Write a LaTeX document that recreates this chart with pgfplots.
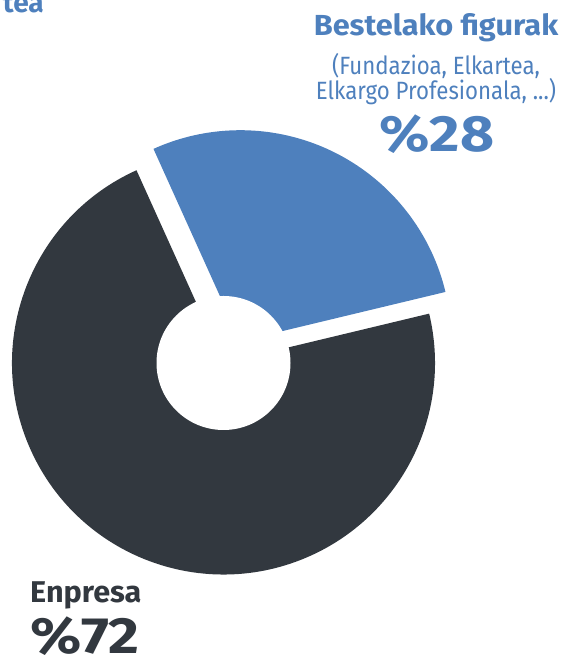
\documentclass[border=0pt]{standalone}
\usepackage{pgfplots}
\pgfplotsset{compat=1.18}
\usepackage{pgfplotstable}
\usepackage{fontspec}
\setmainfont{Fira Sans}
\definecolor{darkslice}{RGB}{50,56,63}
\definecolor{blueslice}{RGB}{78,128,189}
\pgfplotstableread{
label value
Enpresa 72
Bestelako 28
}\piedata
\begin{document}
\begin{tikzpicture}
\pgfplotstablegetelem{0}{value}\of\piedata \let\valA\pgfplotsretval
\pgfplotstablegetelem{1}{value}\of\piedata \let\valB\pgfplotsretval
\pgfmathsetmacro{\startB}{13.5}
\pgfmathsetmacro{\endB}{\startB+\valB*3.6}
\pgfmathsetmacro{\endA}{\endB+\valA*3.6}
\clip (0,0) rectangle (563pt,660pt);
\begin{axis}[
  at={(0,0)}, anchor=south west,
  scale only axis, width=563pt, height=660pt,
  xmin=0, xmax=563, ymin=0, ymax=660,
  hide axis, clip=false,
]
% dark slice (Enpresa)
\fill[darkslice] (axis cs:223.5,297) -- ++(\endB:211.5pt)
  arc[start angle=\endB, end angle=\endA, radius=211.5pt] -- cycle;
% blue slice (exploded)
\fill[blueslice] (axis cs:240.3,318.8) -- ++(\startB:211pt)
  arc[start angle=\startB, end angle=\endB, radius=211pt] -- cycle;
% hole
\fill[white] (axis cs:223.5,297) circle[radius=67pt];
% labels
\node[anchor=base east, text=blueslice, font=\fontsize{28}{30}\selectfont\bfseries, inner sep=0pt] at (axis cs:44,647) {tea};
\node[anchor=base, text=blueslice, font=\fontsize{29}{32}\selectfont\bfseries, inner sep=0pt, xscale=1.06] at (axis cs:436,624) {Bestelako figurak};
\node[anchor=base, text=blueslice, font=\fontsize{25}{28}\selectfont, inner sep=0pt, xscale=0.89] at (axis cs:436,585) {(Fundazioa, Elkartea,};
\node[anchor=base, text=blueslice, font=\fontsize{25}{28}\selectfont, inner sep=0pt, xscale=0.89] at (axis cs:436,560) {Elkargo Profesionala, ...)};
\node[anchor=base, text=blueslice, font=\fontsize{51}{54}\selectfont\bfseries, inner sep=0pt, xscale=1.15] at (axis cs:437,508) {\%\valB};
\node[anchor=base west, text=darkslice, font=\fontsize{30}{33}\selectfont\bfseries, inner sep=0pt, xscale=1.02] at (axis cs:30,57) {Enpresa};
\node[anchor=base west, text=darkslice, font=\fontsize{51}{54}\selectfont\bfseries, inner sep=0pt, xscale=1.17] at (axis cs:30,6) {\%\valA};
\end{axis}
\end{tikzpicture}
\end{document}
